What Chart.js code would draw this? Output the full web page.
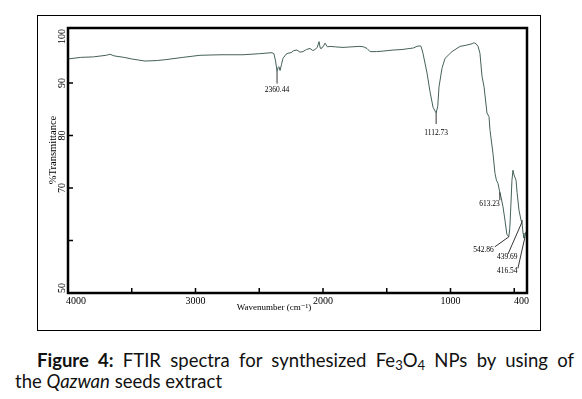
<!DOCTYPE html>
<html>
<head>
<meta charset="utf-8">
<script src="https://cdn.jsdelivr.net/npm/chart.js@4/dist/chart.umd.min.js"></script>
<style>
  body { margin: 0; background: #fff; width: 582px; height: 399px; overflow: hidden; position: relative; }
  #wrap { position: absolute; left: 0; top: 0; width: 582px; height: 340px; }
  .cap { position: absolute; font-family: Lato, "Noto Sans", sans-serif; font-size: 18.5px; color: #111; white-space: nowrap; line-height: 22px; }
  #cap1 { left: 37px; top: 349px; width: 537px; text-align: justify; text-align-last: justify; }
  #cap2 { left: 15px; top: 370px; }
  sub { font-size: 13px; vertical-align: -3px; line-height: 0; }
</style>
</head>
<body>
<div id="wrap"><canvas id="ftirChart" width="582" height="340"></canvas></div>
<div class="cap" id="cap1"><b>Figure 4:</b> FTIR spectra for synthesized Fe<sub>3</sub>O<sub>4</sub> NPs by using of</div>
<div class="cap" id="cap2">the <i>Qazwan</i> seeds extract</div>
<script>
// spectrum (wavenumber cm-1, %T)
const wavenumbers = [
  4000, 3900, 3800, 3700, 3671, 3640, 3616, 3560, 3500, 3396, 3300, 3224, 3100, 2965,
  2800, 2627, 2500, 2400, 2385, 2372, 2360.44, 2352, 2345, 2337, 2325, 2314, 2290, 2275,
  2250, 2230, 2204, 2180, 2157, 2130, 2102, 2080, 2063, 2045, 2031, 2022, 2016, 2000,
  1984, 1965, 1945, 1900, 1843, 1780, 1710, 1680, 1655, 1631, 1580, 1529, 1450, 1380,
  1318, 1290, 1263, 1240, 1231, 1216, 1184, 1161, 1137, 1112.73, 1100, 1090, 1067, 1043,
  1010, 988, 925, 880, 847, 830, 816, 800, 784, 769, 753, 737, 714, 698,
  690, 667, 651, 640, 628, 620, 613.23, 604, 588, 573, 558, 542.86, 535, 527,
  518, 510, 502, 486, 478, 463, 447, 439.69, 431, 424, 416.54, 410, 400
];
const transmittance = [
  94.6, 94.9, 95.0, 95.3, 95.5, 95.2, 95.1, 94.9, 94.6, 94.2, 94.3, 94.5, 94.9, 95.3,
  95.4, 95.4, 95.6, 95.8, 95.6, 94.2, 92.2, 93.0, 93.1, 92.4, 93.6, 94.7, 95.5, 95.7,
  95.8, 96.2, 96.3, 95.9, 96.0, 96.4, 96.6, 96.2, 96.4, 96.8, 97.9, 96.7, 96.6, 96.9,
  97.6, 96.9, 97.0, 96.9, 96.8, 96.9, 97.0, 96.9, 96.6, 96.0, 96.0, 96.1, 96.3, 96.4,
  96.6, 96.7, 97.0, 97.1, 97.0, 95.7, 91.9, 88.4, 85.4, 84.3, 85.6, 89.3, 92.8, 94.7,
  95.5, 96.0, 97.0, 97.2, 97.4, 97.5, 97.7, 97.5, 97.0, 95.7, 91.3, 89.3, 84.3, 83.6,
  81.0, 76.6, 72.8, 71.5, 70.9, 70.0, 69.2, 68.3, 66.4, 63.9, 61.2, 60.7, 62.3, 66.4,
  71.5, 73.4, 72.5, 71.5, 69.2, 65.8, 63.9, 63.5, 61.4, 60.5, 60.6, 61.6, 61.4
];

const xTickValues = [3500, 3000, 2500, 2000, 1500, 1000, 500];
const xTickLabels = [4000, 3000, 2000, 1000, 400];
const yTickValues = [90, 80, 70, 60];
const yTickLabels = [100, 90, 80, 70, 50];
const peakWavenumbers = [2360.44, 1112.73, 613.23, 542.86, 439.69, 416.54];
const peakLabels = ["2360.44", "1112.73", "613.23", "542.86", "439.69", "416.54"];

// leader end / label placement relative to the peak point (px)
const peakLayout = [
  { lx: 0, ly: 12, tx: 0, ty: 18, align: "center" },
  { lx: 0, ly: 11, tx: 0, ty: 20, align: "center" },
  { lx: 0, ly: 8, tx: 0, ty: 12, align: "right" },
  { lx: -14, ly: 10, tx: -15, ty: 13, align: "right" },
  { lx: -14, ly: 32, tx: -25, ty: 35, align: "left" },
  { lx: -7, ly: 31, tx: -28, ty: 34, align: "left" }
];

const serif = '"Liberation Serif", "DejaVu Serif", serif';

const framePlugin = {
  id: "frame",
  afterDraw(chart) {
    const ctx = chart.ctx;
    const area = chart.chartArea;
    const xs = chart.scales.x;
    const ys = chart.scales.y;
    ctx.save();

    // outer thin box
    ctx.strokeStyle = "#000";
    ctx.lineWidth = 1;
    ctx.strokeRect(37.5, 15.5, 503, 315);

    // plot frame
    ctx.lineWidth = 2.5;
    ctx.strokeRect(area.left, area.top, area.right - area.left, area.bottom - area.top);

    // inward ticks
    ctx.lineWidth = 1.5;
    ctx.beginPath();
    xTickValues.forEach((v) => {
      const px = xs.getPixelForValue(v);
      ctx.moveTo(px, area.bottom);
      ctx.lineTo(px, area.bottom - 5);
    });
    yTickValues.forEach((v) => {
      const py = ys.getPixelForValue(v);
      ctx.moveTo(area.left, py);
      ctx.lineTo(area.left + 5, py);
    });
    ctx.stroke();

    // x tick labels
    ctx.fillStyle = "#000";
    ctx.font = "10px " + serif;
    ctx.textAlign = "center";
    ctx.textBaseline = "middle";
    xTickLabels.forEach((v) => {
      const w = ctx.measureText(String(v)).width;
      let px = xs.getPixelForValue(v);
      px = Math.max(px, area.left + w / 2 - 2);
      px = Math.min(px, area.right - w / 2 + 2);
      ctx.fillText(String(v), px, area.bottom + 8);
    });

    // y tick labels (rotated)
    ctx.textBaseline = "alphabetic";
    yTickLabels.forEach((v) => {
      const w = ctx.measureText(String(v)).width;
      let py = ys.getPixelForValue(v);
      py = Math.max(py, area.top + w / 2 + 1);
      py = Math.min(py, area.bottom - w / 2);
      ctx.save();
      ctx.translate(area.left - 3, py);
      ctx.rotate(-Math.PI / 2);
      ctx.fillText(String(v), 0, 0);
      ctx.restore();
    });

    // axis titles
    ctx.textBaseline = "middle";
    ctx.font = "9px " + serif;
    ctx.fillText("Wavenumber (cm\u207B\u00B9)", 274, area.bottom + 15);
    ctx.save();
    ctx.textBaseline = "alphabetic";
    ctx.font = "10.5px " + serif;
    ctx.translate(area.left - 12.5, 150);
    ctx.rotate(-Math.PI / 2);
    ctx.fillText("%Transmittance", 0, 0);
    ctx.restore();

    // peak annotations
    ctx.font = "7.5px " + serif;
    ctx.lineWidth = 0.8;
    peakWavenumbers.forEach((wn, i) => {
      const idx = wavenumbers.indexOf(wn);
      const px = xs.getPixelForValue(wn);
      const py = ys.getPixelForValue(transmittance[idx]);
      const l = peakLayout[i];
      ctx.beginPath();
      ctx.moveTo(px, py);
      ctx.lineTo(px + l.lx, py + l.ly);
      ctx.stroke();
      ctx.textAlign = l.align;
      ctx.fillText(peakLabels[i], px + l.tx, py + l.ty);
    });

    ctx.restore();
  }
};

const ctx = document.getElementById("ftirChart");
new Chart(ctx, {
  type: "line",
  data: {
    datasets: [
      {
        label: "FTIR",
        data: wavenumbers.map((w, i) => ({ x: w, y: transmittance[i] })),
        borderColor: "#44605a",
        borderWidth: 1,
        pointRadius: 0,
        tension: 0,
        fill: false
      }
    ]
  },
  options: {
    responsive: false,
    animation: false,
    layout: { padding: { left: 68, top: 28, right: 55, bottom: 47 } },
    plugins: { legend: { display: false }, tooltip: { enabled: false } },
    scales: {
      x: { type: "linear", reverse: true, min: 400, max: 4000, display: false },
      y: { type: "linear", min: 50, max: 100.5, display: false }
    }
  },
  plugins: [framePlugin]
});
</script>
</body>
</html>
